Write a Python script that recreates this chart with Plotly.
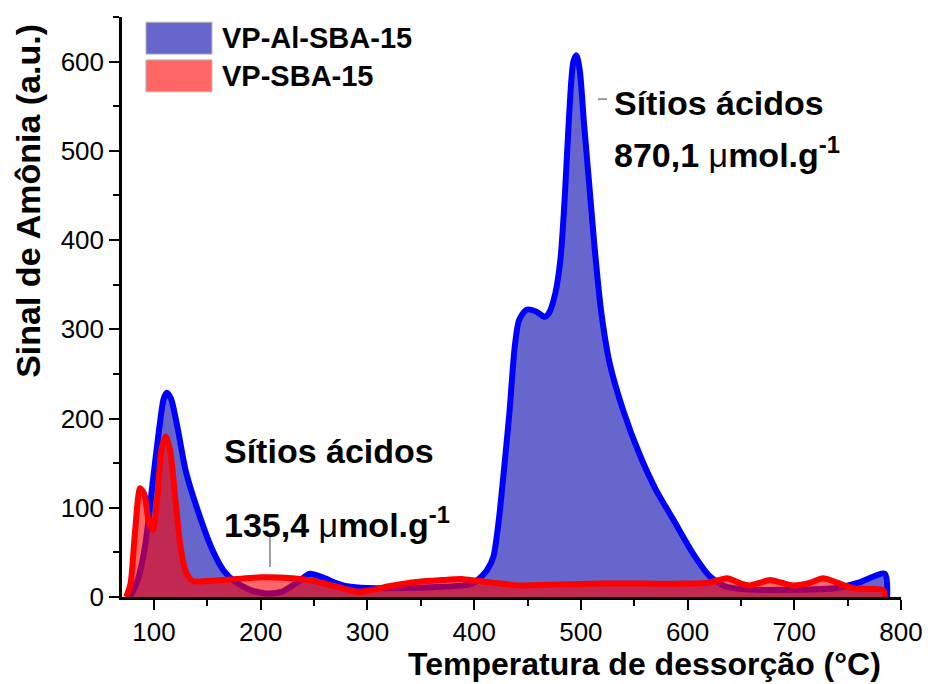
import plotly.graph_objects as go

# ---- data ----
series_names = ["VP-Al-SBA-15", "VP-SBA-15"]

blue_x = [75, 78, 85, 92, 99, 105, 109, 112, 116, 122, 130, 143, 155, 165, 175, 190, 205, 220, 235, 246, 258,
          270, 281, 300, 330, 360, 390, 400, 406, 412, 418, 423, 427, 433, 438, 442, 449, 458, 466, 470, 476,
          481, 485, 489, 493, 496, 499, 503, 508, 513, 519, 527, 540, 555, 570, 587, 605, 621, 635, 650, 700,
          740, 760, 785, 787]
blue_y = [0, 2, 20, 60, 131, 190, 222, 229, 222, 190, 140, 90, 52, 30, 18, 8, 4, 6, 17, 26, 22,
          16, 12, 10, 10, 11, 13, 16, 22, 30, 45, 85, 131, 206, 280, 310, 322, 320, 314, 318, 340,
          380, 450, 540, 600, 607, 590, 530, 460, 390, 320, 262, 208, 160, 121, 86, 49, 23, 12, 9, 8,
          10, 16, 26, 0]

red_x = [74, 78, 82, 87, 91, 95, 99, 103, 107, 111, 115, 120, 125, 130, 136, 150, 175, 200, 230, 250, 270,
         290, 305, 320, 340, 370, 390, 410, 443, 480, 520, 560, 600, 620, 637, 648, 658, 668, 677, 688, 699,
         715, 727, 740, 755, 770, 783, 785]
red_y = [0, 15, 70, 122, 115, 85, 75, 110, 165, 180, 165, 110, 55, 28, 18, 18, 20, 22, 21, 18, 12,
         6, 8, 12, 16, 19, 20, 17, 13, 14, 15, 15, 15, 16, 21, 16, 13, 16, 19, 16, 13,
         16, 21, 16, 10, 9, 8, 0]

x_ticks = [100, 200, 300, 400, 500, 600, 700, 800]
y_ticks = [0, 100, 200, 300, 400, 500, 600]

x_title = "Temperatura de dessorção (°C)"
y_title = "Sinal de Amônia (a.u.)"
ann_high = ["Sítios ácidos", "870,1 <span style='font-weight:normal'>μ</span>mol.g<sup>-1</sup>"]
ann_low = ["Sítios ácidos", "135,4 <span style='font-weight:normal'>μ</span>mol.g<sup>-1</sup>"]

BLUE_LINE = "#0000FF"
BLUE_FILL = "rgb(102,102,204)"
RED_LINE = "#FF0000"
RED_FILL = "rgba(255,0,0,0.6)"
FONT = "Liberation Sans, Arial, sans-serif"

fig = go.Figure()
fig.add_trace(go.Scatter(x=blue_x, y=blue_y, mode="lines", name=series_names[0],
                         line=dict(color=BLUE_LINE, width=6, shape="spline", smoothing=0.7),
                         fill="tozeroy", fillcolor=BLUE_FILL, showlegend=False))
fig.add_trace(go.Scatter(x=red_x, y=red_y, mode="lines", name=series_names[1],
                         line=dict(color=RED_LINE, width=6, shape="spline", smoothing=0.7),
                         fill="tozeroy", fillcolor=RED_FILL, showlegend=False))

axis_common = dict(showline=True, linecolor="black", linewidth=2.5, ticks="outside", ticklen=10,
                   tickwidth=2, tickcolor="black", showgrid=False, zeroline=False, automargin=False,
                   tickfont=dict(family=FONT, size=26, color="black"),
                   minor=dict(ticks="outside", ticklen=6, tickwidth=2, tickcolor="black", dtick=50,
                              tick0=50, showgrid=False))

fig.update_xaxes(range=[70, 800], tickvals=x_ticks, **axis_common)
fig.update_yaxes(range=[0, 650], tickvals=y_ticks, **axis_common)

# axis titles (placed like the reference)
fig.add_annotation(x=0.671, y=-0.115, xref="paper", yref="paper", text="<b>" + x_title + "</b>",
                   showarrow=False, xanchor="center", yanchor="middle",
                   font=dict(family=FONT, size=32, color="black"))
fig.add_annotation(x=-0.1207, y=0.683, xref="paper", yref="paper", text="<b>" + y_title + "</b>",
                   showarrow=False, xanchor="center", yanchor="middle", textangle=-90,
                   font=dict(family=FONT, size=34, color="black"))

# annotations
AF = 34
fig.add_annotation(x=529, y=554, xref="x", yref="y", text="<b>" + ann_high[0] + "</b>", showarrow=False,
                   xanchor="left", yanchor="middle", font=dict(family=FONT, size=AF, color="black"))
fig.add_annotation(x=529, y=498, xref="x", yref="y", text="<b>" + ann_high[1] + "</b>", showarrow=False,
                   xanchor="left", yanchor="middle", font=dict(family=FONT, size=AF, color="black"))
fig.add_annotation(x=164, y=164, xref="x", yref="y", text="<b>" + ann_low[0] + "</b>", showarrow=False,
                   xanchor="left", yanchor="middle", font=dict(family=FONT, size=AF, color="black"))
fig.add_annotation(x=164, y=83, xref="x", yref="y", text="<b>" + ann_low[1] + "</b>", showarrow=False,
                   xanchor="left", yanchor="middle", font=dict(family=FONT, size=AF, color="black"))

# leader lines
fig.add_shape(type="line", xref="x", yref="y", x0=516, x1=524.5, y0=558, y1=558, line=dict(color="gray", width=1.5))
fig.add_shape(type="line", xref="x", yref="y", x0=208.7, x1=208.7, y0=33.6, y1=71.7, line=dict(color="gray", width=1.5))

# custom legend
leg_colors = [BLUE_FILL, "rgb(255,102,102)"]
leg_y = [(0.936, 0.991), (0.871, 0.926)]
for name, col, (y0, y1) in zip(series_names, leg_colors, leg_y):
    fig.add_shape(type="rect", xref="paper", yref="paper", x0=0.0308, x1=0.1155, y0=y0, y1=y1,
                  fillcolor=col, line=dict(color="rgb(180,180,180)", width=1))
    fig.add_annotation(x=0.1258, y=(y0 + y1) / 2, xref="paper", yref="paper", text="<b>" + name + "</b>",
                       showarrow=False, xanchor="left", yanchor="middle",
                       font=dict(family=FONT, size=29, color="black"))

fig.update_layout(width=928, height=684, margin=dict(l=122, r=27, t=17, b=87),
                  paper_bgcolor="white", plot_bgcolor="white", showlegend=False)

fig.write_html("out.html")
